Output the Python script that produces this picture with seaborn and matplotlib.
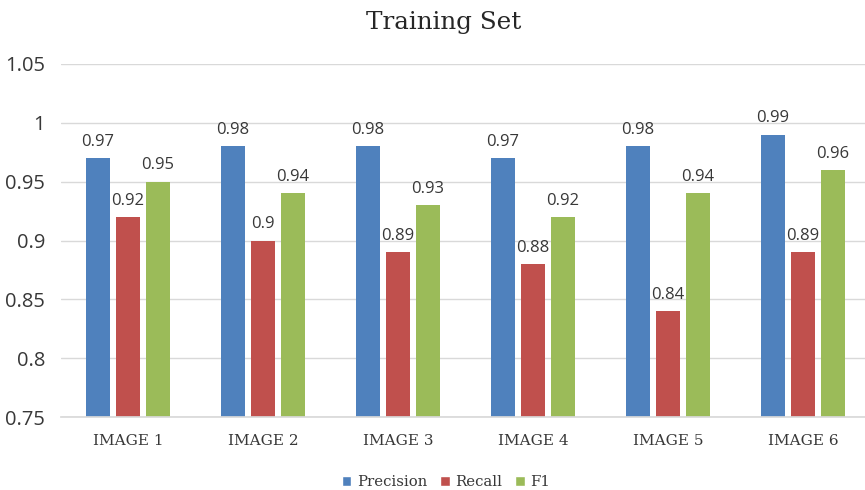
import matplotlib
matplotlib.use("Agg")
import matplotlib.pyplot as plt
import seaborn as sns
import pandas as pd
from matplotlib.patches import Patch

images = ["IMAGE 1", "IMAGE 2", "IMAGE 3", "IMAGE 4", "IMAGE 5", "IMAGE 6"]
metrics = ["Precision", "Recall", "F1"]
precision = [0.97, 0.98, 0.98, 0.97, 0.98, 0.99]
recall = [0.92, 0.90, 0.89, 0.88, 0.84, 0.89]
f1 = [0.95, 0.94, 0.93, 0.92, 0.94, 0.96]
yticks = [0.75, 0.8, 0.85, 0.9, 0.95, 1.0, 1.05]
ytick_labels = ["0.75", "0.8", "0.85", "0.9", "0.95", "1", "1.05"]
colors = ["#4F81BD", "#C0504D", "#9BBB59"]

df = pd.DataFrame({
    "image": images * 3,
    "metric": [m for m in metrics for _ in images],
    "value": precision + recall + f1,
})

sns.set_theme(style="white")
plt.rcParams["font.family"] = ["Open Sans", "DejaVu Sans"]
serif = ["DejaVu Serif"]
text_color = "#383838"

W, H = 865, 490
fig = plt.figure(figsize=(W / 100, H / 100), dpi=100)
ax = fig.add_axes([60.5 / W, 1 - 417 / H, 810 / W, (417 - 64) / H])

sns.barplot(data=df, x="image", y="value", hue="metric", hue_order=metrics,
            palette=colors, width=0.667, gap=0.2, saturation=1, linewidth=0,
            ax=ax, legend=False, errorbar=None)

ax.set_ylim(0.75, 1.05)
ax.set_yticks(yticks)
ax.set_yticklabels(ytick_labels, fontsize=14.5, color=text_color)
ax.tick_params(axis="y", length=0, pad=11)
ax.tick_params(axis="x", length=0, pad=12)
for lab in ax.get_xticklabels():
    lab.set_fontfamily(serif)
    lab.set_fontsize(11)
    lab.set_color(text_color)
ax.yaxis.grid(True, color="#D9D9D9", linewidth=1)
ax.set_axisbelow(True)
for s in ["top", "right", "left"]:
    ax.spines[s].set_visible(False)
ax.spines["bottom"].set_color("#D9D9D9")
ax.set_xlabel("")
ax.set_ylabel("")

for cont in ax.containers:
    labels = [f"{v:g}" for v in cont.datavalues]
    ax.bar_label(cont, labels=labels, padding=6, fontsize=12, color=text_color)

fig.text(444 / W, 1 - 11 / H, "Training Set", ha="center", va="top",
         fontsize=17.7, family=serif, color="#262626")

handles = [Patch(facecolor=c, label=m) for c, m in zip(colors, metrics)]
fig.legend(handles=handles, loc="center", bbox_to_anchor=(446 / W, 1 - 482 / H),
           ncol=3, frameon=False, handlelength=0.65, handleheight=0.65,
           handletextpad=0.35, columnspacing=0.9, labelcolor=text_color,
           prop={"family": serif, "size": 10.7})

fig.savefig("out.png", dpi=100)
